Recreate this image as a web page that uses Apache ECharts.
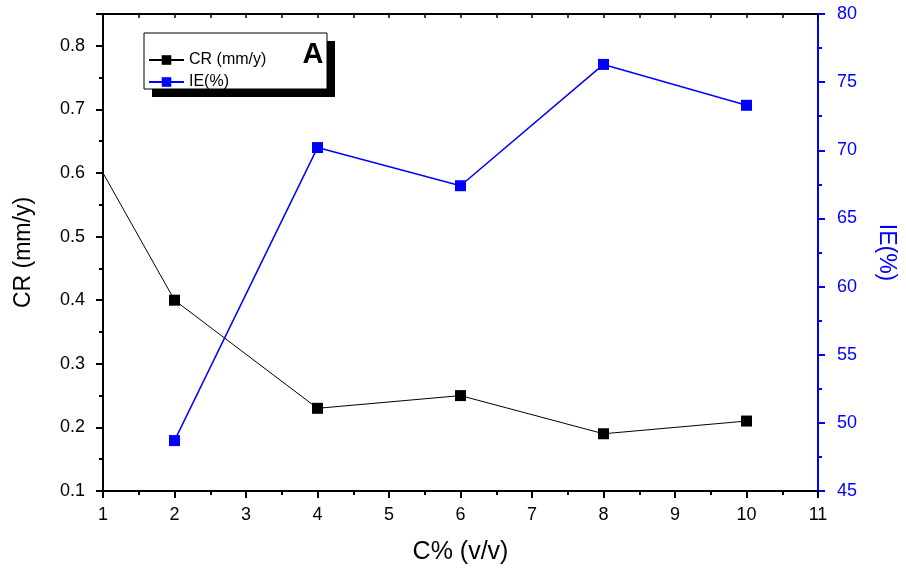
<!DOCTYPE html>
<html>
<head>
<meta charset="utf-8">
<script src="https://cdn.jsdelivr.net/npm/echarts@6/dist/echarts.min.js"></script>
<style>
html,body{margin:0;padding:0;background:#fff;}
#c{width:906px;height:570px;}
</style>
</head>
<body>
<div id="c"></div>
<script>
// Data
var concX = [1, 2, 4, 6, 8, 10];
var crValues = [0.60, 0.40, 0.23, 0.25, 0.19, 0.21];
var ieX = [2, 4, 6, 8, 10];
var ieValues = [48.7, 70.2, 67.4, 76.3, 73.3];
var seriesNames = ['CR (mm/y)', 'IE(%)'];

var FONT = '"Liberation Sans", Arial, sans-serif';
var BLUE = '#0000ff';

var crData = concX.map(function (x, i) {
  var d = { value: [x, crValues[i]] };
  if (i === 0) d.symbol = 'none';
  return d;
});
var ieData = ieX.map(function (x, i) { return [x, ieValues[i]]; });

var chart = echarts.init(document.getElementById('c'), null, { renderer: 'canvas' });
chart.setOption({
  animation: false,
  backgroundColor: '#fff',
  textStyle: { fontFamily: FONT },
  grid: { left: 103, right: 83, top: 14, bottom: 79, containLabel: false },
  legend: {
    data: seriesNames,
    orient: 'vertical',
    left: 148,
    top: 52,
    padding: 0,
    itemWidth: 35,
    itemHeight: 12,
    itemGap: 6,
    textStyle: { fontFamily: FONT, fontSize: 16, color: '#000' },
    z: 6
  },
  graphic: [
    { type: 'rect', z: 4, shape: { x: 152, y: 41, width: 183, height: 56 }, style: { fill: '#000' } },
    { type: 'rect', z: 5, shape: { x: 144, y: 33, width: 183, height: 56 }, style: { fill: '#fff', stroke: '#000', lineWidth: 1 } },
    { type: 'text', z: 7, x: 313, y: 55, style: { text: 'A', font: 'bold 29px ' + FONT, fill: '#000', align: 'center', verticalAlign: 'middle' } }
  ],
  xAxis: [
    {
      type: 'value', position: 'bottom', min: 1, max: 11, interval: 1,
      name: 'C% (v/v)', nameLocation: 'middle', nameGap: 49,
      nameTextStyle: { fontFamily: FONT, fontSize: 25, color: '#000' },
      axisLine: { onZero: false, lineStyle: { color: '#000', width: 2 } },
      axisTick: { inside: false, length: 7, lineStyle: { color: '#000', width: 2 } },
      minorTick: { show: true, splitNumber: 2, length: 4, lineStyle: { color: '#000', width: 2 } },
      axisLabel: { fontFamily: FONT, fontSize: 18, color: '#000', margin: 15 },
      splitLine: { show: false }
    },
    {
      type: 'value', position: 'top', min: 1, max: 11, interval: 0.5,
      axisLine: { onZero: false, lineStyle: { color: '#000', width: 2 } },
      axisTick: { inside: true, length: 4, lineStyle: { color: '#000', width: 1.5 } },
      axisLabel: { show: false },
      splitLine: { show: false }
    }
  ],
  yAxis: [
    {
      type: 'value', position: 'left', min: 0.1, max: 0.85, interval: 0.1,
      name: 'CR (mm/y)', nameLocation: 'middle', nameGap: 68, nameRotate: 90,
      nameTextStyle: { fontFamily: FONT, fontSize: 23, color: '#000' },
      axisLine: { onZero: false, lineStyle: { color: '#000', width: 2 } },
      axisTick: { inside: false, length: 7, lineStyle: { color: '#000', width: 2 } },
      axisLabel: {
        fontFamily: FONT, fontSize: 18, color: '#000', margin: 18,
        formatter: function (v) {
          var t = v * 10;
          return Math.abs(t - Math.round(t)) < 1e-6 ? v.toFixed(1) : '';
        }
      },
      splitLine: { show: false }
    },
    {
      type: 'value', position: 'right', min: 45, max: 80, interval: 5,
      name: 'IE(%)', nameLocation: 'middle', nameGap: 57, nameRotate: -90,
      nameTextStyle: { fontFamily: FONT, fontSize: 23, color: BLUE },
      axisLine: { onZero: false, lineStyle: { color: BLUE, width: 2 } },
      axisTick: { inside: false, length: 7, lineStyle: { color: BLUE, width: 2 } },
      minorTick: { show: true, splitNumber: 2, length: 4, lineStyle: { color: BLUE, width: 2 } },
      axisLabel: { fontFamily: FONT, fontSize: 18, color: BLUE, margin: 19 },
      splitLine: { show: false }
    },
    {
      type: 'value', position: 'left', min: 0.1, max: 0.85, interval: 0.05,
      axisLine: { show: false, onZero: false },
      axisTick: { inside: false, length: 4, lineStyle: { color: '#000', width: 2 } },
      axisLabel: { show: false },
      splitLine: { show: false }
    }
  ],
  series: [
    {
      name: seriesNames[0], type: 'line', xAxisIndex: 0, yAxisIndex: 0,
      data: crData, symbol: 'rect', symbolSize: 11, showAllSymbol: true,
      color: '#000',
      lineStyle: { color: '#000', width: 1 },
      itemStyle: { color: '#000' },
      clip: false, z: 3
    },
    {
      name: seriesNames[1], type: 'line', xAxisIndex: 0, yAxisIndex: 1,
      data: ieData, symbol: 'rect', symbolSize: 11, showAllSymbol: true,
      color: BLUE,
      lineStyle: { color: BLUE, width: 1.5 },
      itemStyle: { color: BLUE },
      clip: false, z: 3
    }
  ]
});
</script>
</body>
</html>
